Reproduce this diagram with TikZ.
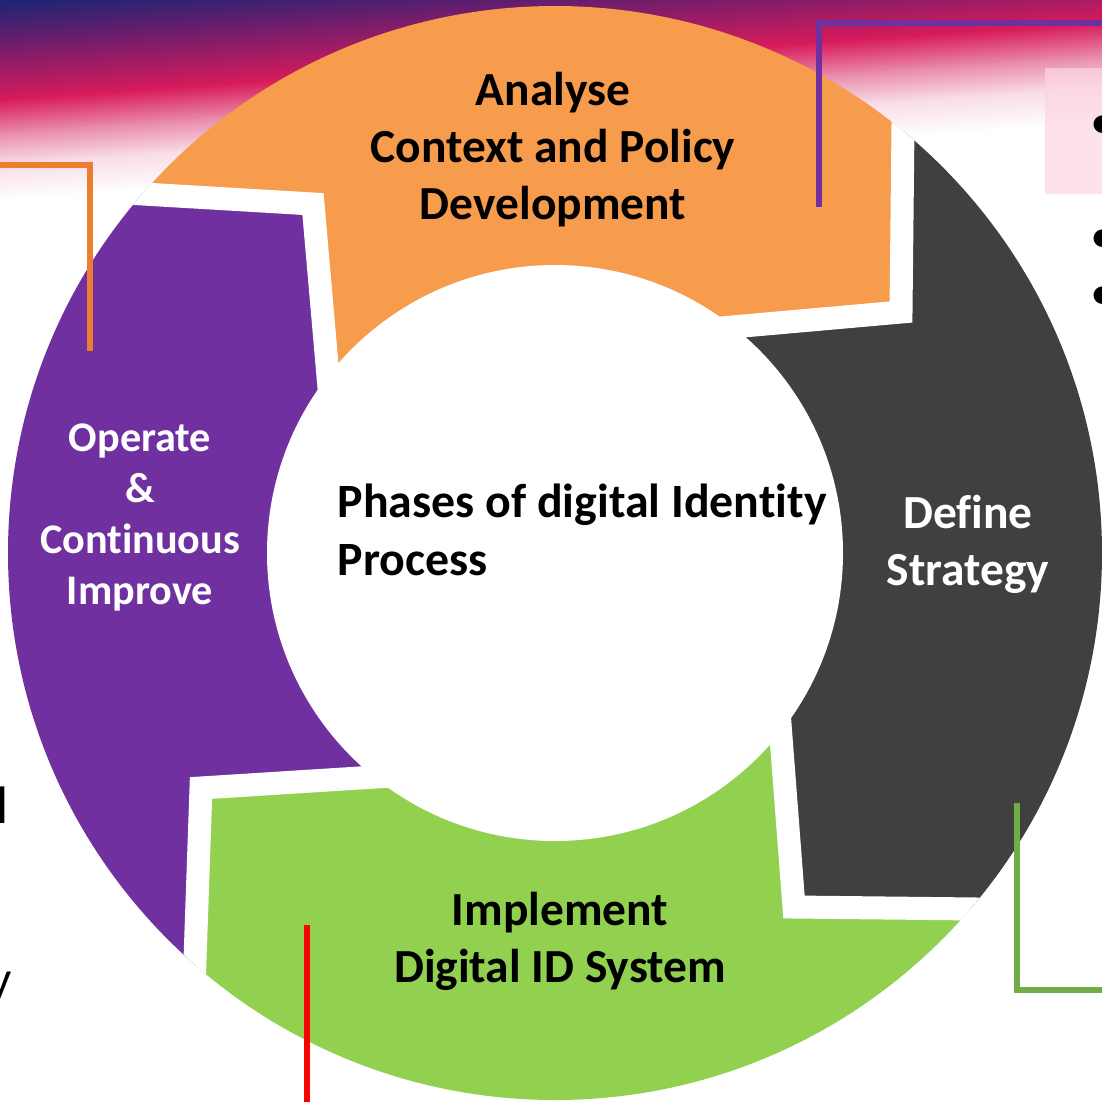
\documentclass[tikz,border=0pt]{standalone}
\usepackage{fontspec}
\setmainfont{Carlito}[Ligatures=NoCommon]
\usetikzlibrary{calc}

\definecolor{segorange}{HTML}{F79B4D}
\definecolor{seggray}{HTML}{404040}
\definecolor{seggreen}{HTML}{92D050}
\definecolor{segpurple}{HTML}{7030A0}
\definecolor{lineorange}{HTML}{ED7D31}
\definecolor{linegreen}{HTML}{70AD47}
\definecolor{bandnavy}{HTML}{1F2573}
\definecolor{bandpurple}{HTML}{6C1D6C}
\definecolor{bandred}{HTML}{D81B5B}
\definecolor{bandpink}{HTML}{E98AAB}
\definecolor{bandlight}{HTML}{F8DCE6}
\definecolor{boxpink}{HTML}{FCD6E0}

\tikzset{
	phase/.style={align=center, inner sep=0pt, font=\bfseries\fontsize{13.5}{16.2}\selectfont},
	callout/.style={line width=1.6pt},
	gap/.style={white, line width=0.23cm, line join=miter},
	cut/.style={inner sep=0pt, font=\fontsize{14}{17}\selectfont},
}

\begin{document}
\begin{tikzpicture}[x=0.01cm, y=-0.01cm]
	\useasboundingbox (0,0) rectangle (1102,1102);

	% Background band at the top
	\begin{scope}
		\clip (0,0) rectangle (1102,1102);
		\begin{scope}[transform canvas={rotate around={4:(551,80)}}]
			\fill[bandnavy] (-300,-200) rectangle (1400,-35);
			\shade[top color=bandnavy, bottom color=bandpurple] (-300,-36) rectangle (1400,5);
			\shade[top color=bandpurple, bottom color=bandred] (-300,4) rectangle (1400,62);
			\shade[top color=bandred, bottom color=bandpink] (-300,61) rectangle (1400,95);
			\shade[top color=bandpink, bottom color=bandlight] (-300,94) rectangle (1400,126);
			\shade[top color=bandlight, bottom color=white] (-300,125) rectangle (1400,162);
		\end{scope}
		\fill[boxpink, opacity=0.7] (1045,68) rectangle (1110,194);
	\end{scope}

	% Center and joints of the ring
	\coordinate (Z) at (555,553);
	\coordinate (O1) at (905,-60);  \coordinate (C1) at (901,312); \coordinate (I1) at (732,327);
	\coordinate (O2) at (1160,911); \coordinate (C2) at (794,907); \coordinate (I2) at (781,737);
	\coordinate (O3) at (188,1160); \coordinate (C3) at (201,788); \coordinate (I3) at (375,777);
	\coordinate (O4) at (-60,182);  \coordinate (C4) at (313,204); \coordinate (I4) at (328,376);

	% Ring segments
	\begin{scope}
		\clip (Z) circle[radius=547];
		\fill[segorange] (O4) -- (C4) -- (I4) -- (Z) -- (I1) -- (C1) -- (O1) -- (-60,-60) -- cycle;
		\fill[seggray] (O1) -- (C1) -- (I1) -- (Z) -- (I2) -- (C2) -- (O2) -- (1160,-60) -- cycle;
		\fill[seggreen] (O2) -- (C2) -- (I2) -- (Z) -- (I3) -- (C3) -- (O3) -- (1160,1160) -- cycle;
		\fill[segpurple] (O3) -- (C3) -- (I3) -- (Z) -- (I4) -- (C4) -- (O4) -- (-60,1160) -- cycle;
		% white gaps between segments
		\foreach \j in {1,...,4}
			\draw[gap] (O\j) -- (C\j) -- ($(C\j)!1.4!(I\j)$);
	\end{scope}
	\fill[white] (Z) circle[radius=288];

	% Callout lines
	\coordinate (oa) at (0,165);    \coordinate (ob) at (90,165);   \coordinate (oc) at (90,351);
	\coordinate (pa) at (819,207);  \coordinate (pb) at (819,23);   \coordinate (pc) at (1102,23);
	\coordinate (ga) at (1017,803); \coordinate (gb) at (1017,990); \coordinate (gc) at (1102,990);
	\coordinate (ra) at (307,925);  \coordinate (rb) at (307,1102);
	\draw[callout, lineorange] (oa) -- (ob) -- (oc);
	\draw[callout, segpurple] (pa) -- (pb) -- (pc);
	\draw[callout, linegreen] (ga) -- (gb) -- (gc);
	\draw[callout, red] (ra) -- (rb);

	% Phase labels
	\node[phase] (ana) at (553,150) {Analyse\\Context and Policy\\Development};
	\node[phase, white] (def) at (968,544) {Define\\Strategy};
	\node[phase] (imp) at (560,941) {Implement\\Digital ID System};
	\node[phase, white, font=\bfseries\fontsize{12}{14.5}\selectfont] (ope) at (140,517) {Operate\\\&\\Continuous\\Improve};
	\node[phase, align=left, anchor=west, font=\bfseries\fontsize{13.6}{16.5}\selectfont] (ctr) at (337,530) {Phases of digital Identity\\Process};

	% Cut-off text at the edges
	\node[cut] (b1) at (1103,127) {•};
	\node[cut] (b2) at (1103,241) {•};
	\node[cut] (b3) at (1103,298) {•};
	\node[cut, anchor=base east, font=\fontsize{15}{18}\selectfont] (el) at (9,823) {l};
	\node[cut, anchor=base east] (ey) at (12,995) {y};
\end{tikzpicture}
\end{document}
